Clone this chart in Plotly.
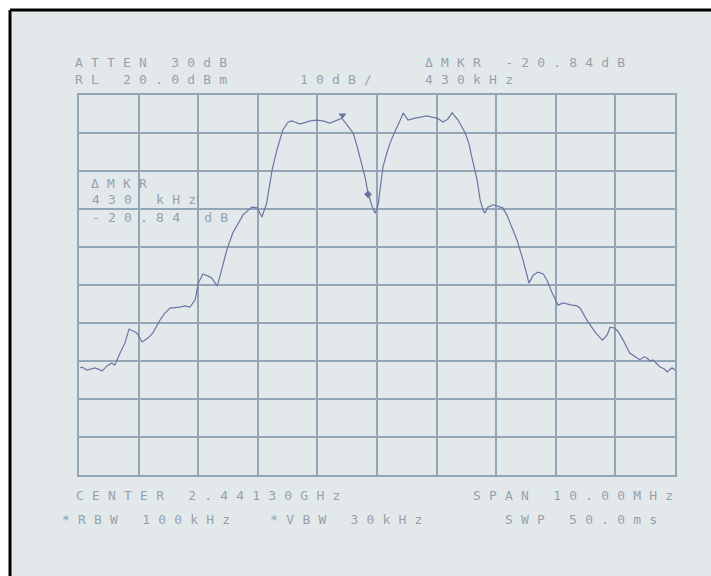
import plotly.graph_objects as go

# Spectrum analyzer settings
CENTER_MHZ = 2441.30
SPAN_MHZ = 10.0
REF_LEVEL_DBM = 20.0
DB_PER_DIV = 10.0
N_DIV = 10

# Trace: frequency offset from centre (MHz) and level (dBm)
FREQ_OFFSET_MHZ = [
    -4.98, -4.95, -4.87, -4.73, -4.61, -4.53, -4.45, -4.40, -4.31, -4.23,
    -4.16, -4.09, -4.03, -3.94, -3.84, -3.76, -3.64, -3.56, -3.47, -3.31,
    -3.22, -3.14, -3.05, -3.00, -2.92, -2.84, -2.77, -2.68, -2.60, -2.52,
    -2.42, -2.33, -2.25, -2.16, -2.10, -2.01, -1.93, -1.85, -1.76, -1.68,
    -1.58, -1.49, -1.43, -1.38, -1.29, -1.24, -1.12, -1.01, -0.91, -0.79,
    -0.70, -0.65, -0.59, -0.50, -0.40, -0.34, -0.29, -0.20, -0.15, -0.08,
    -0.03, 0.02, 0.05, 0.10, 0.17, 0.22, 0.29, 0.34, 0.39, 0.44,
    0.52, 0.64, 0.74, 0.84, 0.92, 1.01, 1.11, 1.19, 1.26, 1.36,
    1.48, 1.54, 1.59, 1.68, 1.73, 1.78, 1.81, 1.86, 1.95, 2.03,
    2.11, 2.18, 2.23, 2.35, 2.45, 2.55, 2.62, 2.70, 2.79, 2.85,
    2.94, 3.04, 3.12, 3.19, 3.27, 3.36, 3.41, 3.52, 3.66, 3.78,
    3.86, 3.91, 3.98, 4.04, 4.13, 4.24, 4.33, 4.41, 4.48, 4.53,
    4.58, 4.63, 4.70, 4.75, 4.82, 4.87, 4.95, 5.00,
]
LEVEL_DBM = [
    -51.8, -51.6, -52.4, -51.8, -52.6, -51.3, -50.5, -51.1, -47.9, -45.3,
    -41.6, -42.1, -42.6, -45.0, -43.9, -42.6, -39.2, -37.4, -36.1, -35.8,
    -35.5, -35.8, -33.9, -29.5, -27.1, -27.6, -28.2, -30.3, -25.3, -20.8,
    -16.3, -13.9, -11.6, -10.3, -9.5, -9.7, -12.1, -8.4, 0.3, 5.5,
    10.8, 12.9, 13.2, 12.9, 12.4, 12.6, 13.2, 13.4, 13.2, 12.6,
    13.2, 13.4, 13.9, 12.1, 10.0, 6.8, 3.7, -1.6, -5.8, -9.5,
    -11.1, -8.9, -5.0, 1.1, 5.0, 7.4, 10.0, 11.6, 13.4, 15.3,
    13.4, 13.9, 14.2, 14.5, 14.2, 13.9, 12.9, 13.7, 15.3, 13.4,
    10.0, 7.4, 3.7, -2.4, -7.6, -10.3, -11.1, -9.5, -8.9, -9.2,
    -9.7, -11.6, -13.7, -18.2, -23.4, -29.5, -27.4, -26.6, -27.1, -28.7,
    -32.1, -35.3, -34.7, -35.0, -35.3, -35.5, -36.1, -39.2, -42.4, -44.5,
    -43.2, -41.1, -41.3, -42.1, -44.5, -47.9, -48.9, -49.7, -48.9, -49.2,
    -50.0, -49.7, -50.8, -51.6, -52.1, -52.9, -51.8, -52.4,
]

# Marker readout
REF_MKR_OFFSET_MHZ = -0.58
REF_MKR_LEVEL_DBM = 14.7
DELTA_MKR_KHZ = 430
DELTA_MKR_DB = -20.84

# Annotation strings
TOP_LEFT = ["ATTEN 30dB", "RL 20.0dBm"]
SCALE_TEXT = "10dB/"
TOP_RIGHT = ["\u0394MKR -20.84dB", "430kHz"]
MKR_BOX = ["\u0394MKR", "430 kHz", "-20.84 dB"]
BOTTOM_LEFT = "CENTER 2.44130GHz"
BOTTOM_RIGHT = "SPAN 10.00MHz"
BW_TEXT = "*RBW 100kHz  *VBW 30kHz"
SWEEP_TEXT = "SWP 50.0ms"

TRACE_COLOR = "#6c74a6"
GRID_COLOR = "#92a6b5"
TEXT_COLOR = "#94a2ad"
SCREEN_BG = "#e3e9eb"

freqs = [CENTER_MHZ + f for f in FREQ_OFFSET_MHZ]
x_lo = CENTER_MHZ - SPAN_MHZ / 2
x_hi = CENTER_MHZ + SPAN_MHZ / 2
y_hi = REF_LEVEL_DBM
y_lo = REF_LEVEL_DBM - N_DIV * DB_PER_DIV

# plot-area placement in the page (pixels)
W, H = 711, 576
L, R, T, B = 79, 675, 95, 475


def px(p):
    return (p - L) / (R - L)


def py(p):
    return (B - p) / (B - T)


fig = go.Figure()

fig.add_trace(go.Scatter(
    x=freqs, y=LEVEL_DBM, mode="lines",
    line=dict(color=TRACE_COLOR, width=1.2),
    hoverinfo="skip", showlegend=False,
))

ref_f = CENTER_MHZ + REF_MKR_OFFSET_MHZ
delta_f = ref_f + DELTA_MKR_KHZ / 1000.0
delta_l = REF_MKR_LEVEL_DBM + DELTA_MKR_DB
fig.add_trace(go.Scatter(
    x=[ref_f], y=[REF_MKR_LEVEL_DBM], mode="markers",
    marker=dict(symbol="triangle-down", size=7, color=TRACE_COLOR),
    hoverinfo="skip", showlegend=False,
))
fig.add_trace(go.Scatter(
    x=[delta_f], y=[delta_l], mode="markers",
    marker=dict(symbol="diamond", size=6, color=TRACE_COLOR),
    hoverinfo="skip", showlegend=False,
))

shapes = [
    # instrument screen background
    dict(type="rect", xref="paper", yref="paper",
         x0=px(11), x1=px(W + 5), y0=py(H + 5), y1=py(10),
         fillcolor=SCREEN_BG, line=dict(width=0), layer="below"),
    # frame edges
    dict(type="line", xref="paper", yref="paper",
         x0=px(10), x1=px(W + 5), y0=py(10), y1=py(10),
         line=dict(color="black", width=3), layer="above"),
    dict(type="line", xref="paper", yref="paper",
         x0=px(10), x1=px(10), y0=py(10), y1=py(H + 5),
         line=dict(color="black", width=3), layer="above"),
]

font = dict(family="DejaVu Sans Mono", size=13, color=TEXT_COLOR)


def label(text, x, y):
    return dict(
        text='<span style="letter-spacing:8.2px">' + text + "</span>",
        xref="paper", yref="paper", x=px(x), y=py(y),
        xanchor="left", yanchor="middle", showarrow=False, font=font,
    )


annotations = [
    label(TOP_LEFT[0], 73, 62),
    label(TOP_LEFT[1], 73, 79),
    label(SCALE_TEXT, 298, 79),
    label(TOP_RIGHT[0], 423, 62),
    label(TOP_RIGHT[1], 423, 79),
    label(MKR_BOX[0], 89, 183),
    label(MKR_BOX[1], 90, 199),
    label(MKR_BOX[2], 90, 217),
    label(BOTTOM_LEFT, 74, 495),
    label(BOTTOM_RIGHT, 471, 495),
    label(BW_TEXT, 60, 519),
    label(SWEEP_TEXT, 503, 519),
]

axis_common = dict(
    showgrid=True, gridcolor=GRID_COLOR, gridwidth=1.6,
    showline=True, linecolor=GRID_COLOR, linewidth=1.6, mirror=True,
    zeroline=False, showticklabels=False, ticks="",
    fixedrange=True,
)

fig.update_layout(
    width=W, height=H,
    margin=dict(l=L, r=W - R, t=T, b=H - B, pad=0),
    paper_bgcolor="white",
    plot_bgcolor=SCREEN_BG,
    xaxis=dict(range=[x_lo, x_hi], tick0=x_lo, dtick=SPAN_MHZ / N_DIV, **axis_common),
    yaxis=dict(range=[y_lo, y_hi], tick0=y_lo, dtick=DB_PER_DIV, **axis_common),
    shapes=shapes,
    annotations=annotations,
)

fig.write_html("out.html")
